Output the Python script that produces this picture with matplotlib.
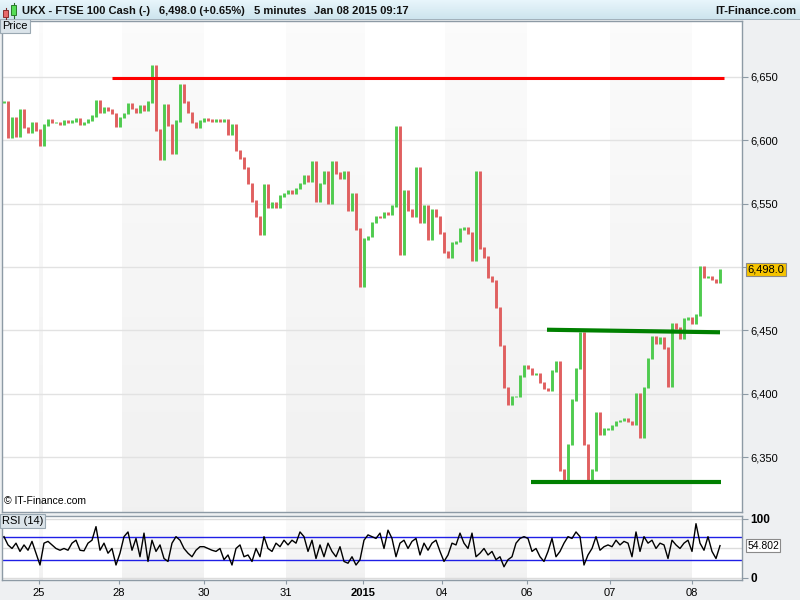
import numpy as np
import matplotlib
matplotlib.use("Agg")
import matplotlib.pyplot as plt
from matplotlib.patches import Rectangle
from matplotlib.transforms import blended_transform_factory

plt.rcParams["font.family"] = ["Liberation Sans", "DejaVu Sans"]

# ---- FTSE 100 cash, 5-minute closes (one value per sampled bar) ----
closes = [
    6630, 6602, 6618, 6603, 6624, 6610, 6606, 6614, 6608, 6596,
    6612, 6616, 6614, 6614, 6613, 6615, 6614, 6615, 6617, 6613,
    6614, 6616, 6619, 6631, 6622, 6626, 6624, 6621, 6611, 6618,
    6621, 6629, 6625, 6622, 6627, 6624, 6630, 6659, 6608, 6585,
    6628, 6612, 6590, 6615, 6644, 6630, 6622, 6614, 6610, 6615,
    6617, 6616, 6615, 6616, 6615, 6616, 6605, 6612, 6592, 6586,
    6578, 6566, 6552, 6540, 6526, 6565, 6547, 6551, 6547, 6556,
    6558, 6560, 6558, 6562, 6566, 6572, 6568, 6583, 6552, 6566,
    6575, 6550, 6583, 6574, 6570, 6575, 6545, 6558, 6530, 6485,
    6522, 6524, 6535, 6540, 6539, 6543, 6542, 6548, 6611, 6510,
    6560, 6545, 6540, 6578, 6535, 6548, 6522, 6545, 6540, 6527,
    6512, 6508, 6519, 6520, 6530, 6531, 6527, 6505, 6575, 6515,
    6508, 6492, 6489, 6468, 6438, 6405, 6392, 6398, 6398, 6414,
    6422, 6420, 6415, 6416, 6409, 6404, 6403, 6418, 6425, 6340,
    6330, 6360, 6395, 6420, 6448, 6360, 6332, 6340, 6385, 6368,
    6372, 6372, 6375, 6378, 6379, 6380, 6378, 6376, 6400, 6366,
    6405, 6428, 6445, 6440, 6444, 6436, 6406, 6455, 6452, 6444,
    6459, 6460, 6456, 6462, 6500, 6492, 6492, 6490, 6488, 6498,
]

# ---- RSI(14) values for the same bars ----
rsi = [
    70, 56, 50, 59, 45, 56, 47, 62, 42, 22,
    59, 62, 56, 50, 47, 50, 47, 59, 64, 47,
    46, 59, 64, 87, 47, 59, 42, 50, 22, 42,
    70, 78, 47, 67, 36, 76, 28, 64, 45, 56,
    33, 28, 59, 70, 64, 50, 42, 36, 47, 53,
    53, 50, 47, 45, 50, 31, 39, 22, 50, 56,
    36, 39, 28, 50, 36, 70, 50, 45, 59, 53,
    64, 56, 64, 59, 78, 70, 45, 64, 33, 56,
    36, 59, 45, 36, 53, 28, 25, 36, 22, 31,
    64, 73, 70, 67, 76, 50, 81, 67, 36, 59,
    64, 50, 62, 67, 39, 59, 47, 59, 64, 45,
    28, 39, 59, 56, 76, 59, 50, 76, 36, 42,
    50, 39, 45, 31, 36, 19, 31, 36, 59, 67,
    70, 67, 45, 50, 36, 28, 45, 67, 36, 45,
    59, 70, 67, 78, 70, 22, 39, 50, 70, 47,
    53, 56, 53, 64, 56, 62, 59, 36, 78, 45,
    70, 59, 64, 50, 59, 56, 33, 64, 56, 50,
    59, 64, 45, 92, 59, 47, 70, 45, 33, 54.802,
]

# ---- sessions (bar index where each trading day starts) ----
day_labels = ["25", "28", "30", "31", "2015", "04", "06", "07", "08"]
day_starts = [8.75, 28.75, 50, 70.5, 89.75, 109.5, 130.75, 151.5, 172]
shaded_sessions = [(8.75, 9.75), (29.5, 50), (70.5, 90.25), (110.25, 130.75), (151.5, 172)]

# ---- drawn trend lines: (start bar, end bar, start price, end price) ----
resistance = (27, 180, 6649, 6649)
neckline = (135.75, 179, 6450.5, 6448.5)
support = (131.75, 179.25, 6330, 6330)

price_ticks = [6350, 6400, 6450, 6500, 6550, 6600, 6650]
last_price = 6498.0
last_rsi = 54.802

GREEN = "#4fcb4f"
RED = "#e06060"
FRAME = "#8d9aa5"
PANEL = "#eef0f2"

W, H = 800, 600
fig = plt.figure(figsize=(8, 6), dpi=100, facecolor=PANEL)


def box(x0, y0, x1, y1):
    return [x0 / W, 1 - y1 / H, (x1 - x0) / W, (y1 - y0) / H]


ax = fig.add_axes(box(2, 21, 742, 512))
rx = fig.add_axes(box(2, 516, 742, 580))
hx = fig.add_axes(box(0, 0, 800, 20))

n = len(closes)
xs = np.arange(n)
xlim = (-0.5, 184.5)


def shade(a, lo, hi):
    grad = np.linspace(0, 1, 64)[:, None]
    top = np.array([0.985, 0.985, 0.985])
    bot = np.array([0.945, 0.945, 0.945])
    img = (top * (1 - grad) + bot * grad)[:, None, :].repeat(2, axis=1)
    for s0, s1 in shaded_sessions:
        a.imshow(img, extent=(s0, s1, lo, hi), origin="upper", aspect="auto",
                 zorder=0, interpolation="bilinear")


def style_frame(a):
    a.set_facecolor("white")
    for sp in a.spines.values():
        sp.set_color(FRAME)
        sp.set_linewidth(1)


# ---- price panel ----
ylo, yhi = 6306.7, 6694.1
style_frame(ax)
shade(ax, ylo, yhi)
for v in price_ticks:
    ax.axhline(v, color="#e2e2e2", lw=1, zorder=1)

c = np.array(closes, dtype=float)
prev = np.r_[c[0], c[:-1]]
hi = np.maximum(prev, c) + 0.6
lo = np.minimum(prev, c) - 0.6
cols = np.where(c >= prev, GREEN, RED)
ax.vlines(xs, lo, hi, colors=cols, lw=2.1, zorder=3)

for (x0, x1, y0, y1), col, lw in [(resistance, "#ff0000", 2.2),
                                   (neckline, "#008000", 3.0),
                                   (support, "#008000", 3.0)]:
    ax.plot([x0, x1], [y0, y1], color=col, lw=lw, solid_capstyle="butt", zorder=4)

ax.set_xlim(*xlim)
ax.set_ylim(ylo, yhi)
ax.set_xticks([])
ax.yaxis.tick_right()
ax.set_yticks(price_ticks)
ax.set_yticklabels(["" if v == 6500 else f"{v:,}" for v in price_ticks])
ax.tick_params(axis="y", direction="out", length=4, color=FRAME, labelsize=8, pad=2)

tr = blended_transform_factory(ax.transAxes, ax.transData)
ax.text(1.0072, last_price, f"{last_price:,.1f}", transform=tr, va="center", ha="left",
        fontsize=8, bbox=dict(boxstyle="square,pad=0.12", fc="#f6c400", ec="#8a8a8a", lw=0.8),
        clip_on=False, zorder=6)

ax.text(0.0, 1.0, "Price", transform=ax.transAxes, va="top", ha="left", fontsize=8,
        bbox=dict(boxstyle="square,pad=0.18", fc="#dbe4ea", ec="#9aa8b2", lw=0.8), zorder=6)
ax.text(0.003, 0.012, "\u00a9 IT-Finance.com", transform=ax.transAxes, va="bottom",
        ha="left", fontsize=7.5, zorder=6)

# ---- RSI panel ----
style_frame(rx)
shade(rx, -3.4, 105)
for v in (0, 50, 100):
    rx.axhline(v, color="#dcdcdc", lw=1, zorder=1)
for v in (30, 70):
    rx.axhline(v, color="#1f1fe6", lw=1, zorder=2)
rx.plot(xs, rsi, color="black", lw=1, zorder=3)
rx.set_xlim(*xlim)
rx.set_ylim(-3.4, 105)
rx.yaxis.tick_right()
rx.set_yticks([0, 100])
rx.set_yticklabels(["0", "100"], fontweight="bold")
rx.tick_params(axis="y", direction="out", length=4, color=FRAME, labelsize=8.5, pad=2)
rx.set_xticks(day_starts)
rx.set_xticklabels(day_labels)
for lab in rx.get_xticklabels():
    if lab.get_text() == "2015":
        lab.set_fontweight("bold")
rx.tick_params(axis="x", direction="out", length=3, color=FRAME, labelsize=8, pad=3)

tr2 = blended_transform_factory(rx.transAxes, rx.transData)
rx.text(1.0072, last_rsi, f"{last_rsi:.3f}", transform=tr2, va="center", ha="left",
        fontsize=7.5, bbox=dict(boxstyle="square,pad=0.12", fc="white", ec="#8a8a8a", lw=0.8),
        clip_on=False, zorder=6)
rx.text(0.0, 1.0, "RSI (14)", transform=rx.transAxes, va="top", ha="left", fontsize=8,
        bbox=dict(boxstyle="square,pad=0.18", fc="#dbe4ea", ec="#9aa8b2", lw=0.8), zorder=6)

# ---- title bar ----
hx.set_xlim(0, 800)
hx.set_ylim(20, 0)
hx.axis("off")
g = np.linspace(0, 1, 32)[:, None]
topc = np.array([0.91, 0.965, 0.985])
botc = np.array([0.80, 0.89, 0.93])
hx.imshow((topc * (1 - g) + botc * g)[:, None, :].repeat(2, axis=1),
          extent=(0, 800, 20, 0), aspect="auto", interpolation="bilinear", zorder=0)
hx.plot([0, 800], [19.6, 19.6], color="#9aa8b2", lw=1.2, zorder=1)

# small candlestick icon
hx.plot([5.8, 5.8], [8, 18.5], color="#7a2a2a", lw=0.8, zorder=2)
hx.add_patch(Rectangle((3.3, 10), 5, 6.7, fc="#e86a6a", ec="#8a3030", lw=0.7, zorder=3))
hx.plot([13.5, 13.5], [2.5, 18], color="#2a6a2a", lw=0.8, zorder=2)
hx.add_patch(Rectangle((11, 5), 5, 10, fc="#55dd55", ec="#2a7a2a", lw=0.7, zorder=3))

hdr = dict(fontsize=8, fontweight="bold", va="center", ha="left", color="#111111")
hx.text(22, 10.5, "UKX - FTSE 100 Cash (-)", **hdr)
hx.text(159, 10.5, "6,498.0 (+0.65%)", **hdr)
hx.text(254, 10.5, "5 minutes", **hdr)
hx.text(314, 10.5, "Jan 08 2015 09:17", **hdr)
hx.text(796, 10.5, "IT-Finance.com", fontsize=8, fontweight="bold", va="center",
        ha="right", color="#111111")

fig.savefig("out.png", dpi=100, facecolor=PANEL)
